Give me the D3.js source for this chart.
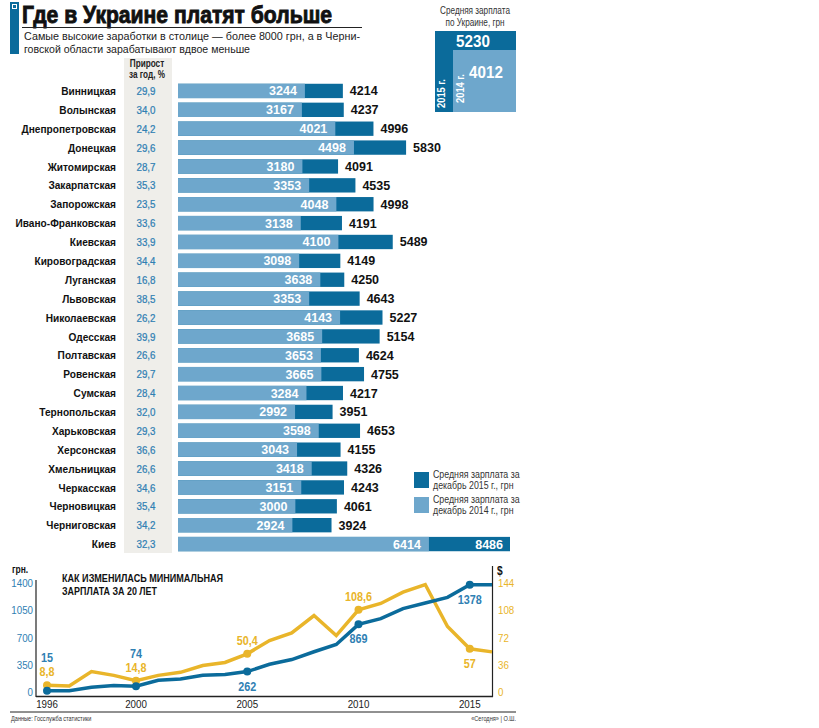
<!DOCTYPE html>
<html>
<head>
<meta charset="utf-8">
<script src="https://cdn.jsdelivr.net/npm/d3@7"></script>
<style>
  html, body { margin: 0; padding: 0; background: #fff; }
  svg { display: block; font-family: "Liberation Sans", Arial, sans-serif; }
</style>
</head>
<body>
<div id="chart-area"></div>
<script>
// regions, growth %, average salary Dec 2014 / Dec 2015 (UAH)
var regions = ["Винницкая", "Волынская", "Днепропетровская", "Донецкая", "Житомирская",
  "Закарпатская", "Запорожская", "Ивано-Франковская", "Киевская", "Кировоградская",
  "Луганская", "Львовская", "Николаевская", "Одесская", "Полтавская", "Ровенская",
  "Сумская", "Тернопольская", "Харьковская", "Херсонская", "Хмельницкая", "Черкасская",
  "Черновицкая", "Черниговская", "Киев"];
var growth = [29.9, 34.0, 24.2, 29.6, 28.7, 35.3, 23.5, 33.6, 33.9, 34.4, 16.8, 38.5, 26.2,
  39.9, 26.6, 29.7, 28.4, 32.0, 29.3, 36.6, 26.6, 34.6, 35.4, 34.2, 32.3];
var salary2014 = [3244, 3167, 4021, 4498, 3180, 3353, 4048, 3138, 4100, 3098, 3638, 3353, 4143,
  3685, 3653, 3665, 3284, 2992, 3598, 3043, 3418, 3151, 3000, 2924, 6414];
var salary2015 = [4214, 4237, 4996, 5830, 4091, 4535, 4998, 4191, 5489, 4149, 4250, 4643, 5227,
  5154, 4624, 4755, 4217, 3951, 4653, 4155, 4326, 4243, 4061, 3924, 8486];
var ukraineAvg2015 = 5230;
var ukraineAvg2014 = 4012;

// minimum wage 1996-2016
var years = [1996, 1997, 1998, 1999, 2000, 2001, 2002, 2003, 2004, 2005, 2006,
  2007, 2008, 2009, 2010, 2011, 2012, 2013, 2014, 2015, 2016];
var minWageUah = [15, 15, 60, 85, 74, 150, 166, 214, 226, 262, 356,
  417, 517, 610, 869, 942, 1071, 1144, 1216, 1378, 1378];
var minWageUsd = [8.8, 8, 27, 22, 14.8, 22, 26, 35, 39, 50.4, 68,
  78, 101, 74.6, 108.6, 117, 132, 142, 86.6, 57, 53];
var labelYears = [1996, 2000, 2005, 2010, 2015];
var uahTicks = [0, 350, 700, 1050, 1400];
var usdTicks = [0, 36, 72, 108, 144];
var yearTicks = [1996, 2000, 2005, 2010, 2015];

var DARK = "#0b6b9b", LIGHT = "#6ea7cc", YELLOW = "#e9b52a", BLUE_TXT = "#2f80b3";
var comma = function(v, n) { return v.toFixed(n).replace(".", ","); };
var squeeze = function(x, y, s) { return "translate(" + x + "," + y + ") scale(" + s + ",1)"; };

var svg = d3.select("#chart-area").append("svg")
  .attr("width", 819)
  .attr("height", 728);

// condensed text helper
function label(str, x, y, size, opts) {
  opts = opts || {};
  var t = svg.append("text")
    .attr("transform", squeeze(x, y, opts.sx || 0.85))
    .attr("font-size", size)
    .attr("font-weight", opts.bold ? "bold" : "normal")
    .attr("fill", opts.fill || "#222")
    .attr("text-anchor", opts.anchor || "start")
    .text(str);
  return t;
}

// ---- header
svg.append("rect").attr("x", 10).attr("y", 2).attr("width", 9).attr("height", 52).attr("fill", DARK);
svg.append("rect").attr("x", 12).attr("y", 4).attr("width", 5).attr("height", 5).attr("fill", "#fff");
svg.append("rect").attr("x", 13).attr("y", 5).attr("width", 3).attr("height", 3).attr("fill", DARK);
svg.append("text").attr("x", 22).attr("y", 22.5)
  .attr("font-size", 24.5).attr("font-weight", "bold").attr("fill", "#111")
  .attr("stroke", "#111").attr("stroke-width", 0.9)
  .attr("textLength", 310).attr("lengthAdjust", "spacingAndGlyphs")
  .text("Где в Украине платят больше");
svg.append("line").attr("x1", 22).attr("x2", 362).attr("y1", 27.5).attr("y2", 27.5)
  .attr("stroke", "#222").attr("stroke-width", 1);
svg.append("text").attr("x", 24).attr("y", 40).attr("font-size", 11.5).attr("fill", "#222")
  .attr("textLength", 336).attr("lengthAdjust", "spacingAndGlyphs")
  .text("Самые высокие заработки в столице — более 8000 грн, а в Черни-");
svg.append("text").attr("x", 24).attr("y", 52.5).attr("font-size", 11.5).attr("fill", "#222")
  .attr("textLength", 226).attr("lengthAdjust", "spacingAndGlyphs")
  .text("говской области зарабатывают вдвое меньше");

// ---- Ukraine average box
label("Средняя зарплата", 475, 14, 10, { anchor: "middle", sx: 0.82, fill: "#333" });
label("по Украине, грн", 475, 26, 10, { anchor: "middle", sx: 0.82, fill: "#333" });
svg.append("rect").attr("x", 435).attr("y", 31).attr("width", 81).attr("height", 81).attr("fill", DARK);
svg.append("rect").attr("x", 453).attr("y", 50).attr("width", 63).attr("height", 62).attr("fill", LIGHT);
label(ukraineAvg2015, 473, 47, 16, { anchor: "middle", bold: true, fill: "#fff", sx: 0.95 });
label(ukraineAvg2014, 486, 78, 16, { anchor: "middle", bold: true, fill: "#fff", sx: 0.95 });
svg.append("text").attr("transform", "translate(445,108) rotate(-90) scale(0.85,1)")
  .attr("font-size", 11).attr("font-weight", "bold").attr("fill", "#fff").text("2015 г.");
svg.append("text").attr("transform", "translate(464,103) rotate(-90) scale(0.85,1)")
  .attr("font-size", 11).attr("font-weight", "bold").attr("fill", "#fff").text("2014 г.");

// ---- bar chart
var x = d3.scaleLinear()
  .domain([0, d3.max(salary2015)])
  .range([178, 510]);
var y = d3.scaleBand()
  .domain(regions)
  .range([81.5, 553.5])
  .paddingInner(0.24)
  .paddingOuter(0.12);

svg.append("rect").attr("x", 124).attr("y", 58).attr("width", 48).attr("height", 495).attr("fill", "#efeeea");
label("Прирост", 147, 67, 10, { anchor: "middle", bold: true, sx: 0.82 });
label("за год, %", 147, 78, 10, { anchor: "middle", bold: true, sx: 0.82 });

var rows = svg.selectAll("g.row")
  .data(regions)
  .enter().append("g")
  .attr("class", "row")
  .attr("transform", (d) => "translate(0," + y(d) + ")");

var h = y.bandwidth();

rows.append("text")
  .attr("transform", squeeze(116, h / 2, 0.88)).attr("dy", "0.36em")
  .attr("text-anchor", "end").attr("font-size", 11.5).attr("font-weight", "bold").attr("fill", "#111")
  .text((d) => d);
rows.append("text")
  .attr("transform", squeeze(146, h / 2, 0.85)).attr("dy", "0.36em")
  .attr("text-anchor", "middle").attr("font-size", 11.5).attr("fill", BLUE_TXT)
  .attr("stroke", BLUE_TXT).attr("stroke-width", 0.25)
  .text((d, i) => comma(growth[i], 1));
rows.append("rect")
  .attr("x", x(0)).attr("y", 0).attr("height", h)
  .attr("width", (d, i) => x(salary2015[i]) - x(0))
  .attr("fill", DARK);
rows.append("rect")
  .attr("x", x(0)).attr("y", 0).attr("height", h)
  .attr("width", (d, i) => x(salary2014[i]) - x(0))
  .attr("fill", LIGHT);
rows.append("text")
  .attr("x", (d, i) => x(salary2014[i]) - 8).attr("y", h / 2).attr("dy", "0.36em")
  .attr("text-anchor", "end").attr("font-size", 12.5).attr("font-weight", "bold").attr("fill", "#fff")
  .text((d, i) => salary2014[i]);
rows.append("text")
  .attr("x", (d, i) => i === regions.length - 1 ? x(salary2015[i]) - 7 : x(salary2015[i]) + 7)
  .attr("y", h / 2).attr("dy", "0.36em")
  .attr("text-anchor", (d, i) => i === regions.length - 1 ? "end" : "start")
  .attr("font-size", 12.5).attr("font-weight", "bold")
  .attr("fill", (d, i) => i === regions.length - 1 ? "#fff" : "#111")
  .text((d, i) => salary2015[i]);

// legend
var legend = [
  { color: DARK, lines: ["Средняя зарплата за", "декабрь 2015 г., грн"], y: 472 },
  { color: LIGHT, lines: ["Средняя зарплата за", "декабрь 2014 г., грн"], y: 497 }
];
legend.forEach((l) => {
  svg.append("rect").attr("x", 414).attr("y", l.y).attr("width", 15).attr("height", 16).attr("fill", l.color);
  l.lines.forEach((t, k) => {
    label(t, 433, l.y + 6 + k * 11, 10.5, { sx: 0.84, fill: "#333" });
  });
});

// ---- minimum wage line chart
var lx = d3.scaleLinear().domain([1996, 2016]).range([47, 492]);
var ly = d3.scaleLinear().domain([0, 1400]).range([692, 583]);
var ry = d3.scaleLinear().domain([0, 144]).range([692, 583]);

label("грн.", 12, 573, 10, { bold: true, fill: "#111" });
label("$", 497, 575, 12, { bold: true, fill: "#111" });
svg.append("text").attr("x", 62).attr("y", 582).attr("font-size", 10).attr("font-weight", "bold")
  .attr("fill", "#111").attr("textLength", 161).attr("lengthAdjust", "spacingAndGlyphs")
  .text("КАК ИЗМЕНИЛАСЬ МИНИМАЛЬНАЯ");
svg.append("text").attr("x", 62).attr("y", 595).attr("font-size", 10).attr("font-weight", "bold")
  .attr("fill", "#111").attr("textLength", 95).attr("lengthAdjust", "spacingAndGlyphs")
  .text("ЗАРПЛАТА ЗА 20 ЛЕТ");

svg.selectAll("text.ltick").data(uahTicks).enter().append("text")
  .attr("class", "ltick")
  .attr("transform", (d) => squeeze(33, ly(d), 0.85)).attr("dy", "0.36em")
  .attr("text-anchor", "end").attr("font-size", 11.5).attr("fill", BLUE_TXT)
  .text((d) => d);
svg.selectAll("text.rtick").data(usdTicks).enter().append("text")
  .attr("class", "rtick")
  .attr("transform", (d) => squeeze(498, ry(d), 0.85)).attr("dy", "0.36em")
  .attr("font-size", 11.5).attr("fill", YELLOW)
  .text((d) => d);
svg.selectAll("text.xtick").data(yearTicks).enter().append("text")
  .attr("class", "xtick")
  .attr("transform", (d) => squeeze(lx(d), 708, 0.85))
  .attr("text-anchor", "middle").attr("font-size", 11.5).attr("fill", "#222")
  .text((d) => d);

svg.append("line").attr("x1", 36).attr("x2", 36).attr("y1", 580).attr("y2", 697)
  .attr("stroke", "#222").attr("stroke-width", 1.2);
svg.append("line").attr("x1", 492.5).attr("x2", 492.5).attr("y1", 566).attr("y2", 697)
  .attr("stroke", "#222").attr("stroke-width", 1.2);
svg.append("line").attr("x1", 36).attr("x2", 493).attr("y1", 696.5).attr("y2", 696.5)
  .attr("stroke", "#222").attr("stroke-width", 1.5);

var lineUsd = d3.line().x((d, i) => lx(years[i])).y((d) => ry(d));
var lineUah = d3.line().x((d, i) => lx(years[i])).y((d) => ly(d));

svg.append("path").datum(minWageUsd).attr("d", lineUsd)
  .attr("fill", "none").attr("stroke", YELLOW).attr("stroke-width", 3.5);
svg.append("path").datum(minWageUah).attr("d", lineUah)
  .attr("fill", "none").attr("stroke", DARK).attr("stroke-width", 3.5);

labelYears.forEach((yr) => {
  var i = years.indexOf(yr);
  var cx = lx(yr);
  var yb = ly(minWageUah[i]), yy = ry(minWageUsd[i]);
  svg.append("circle").attr("cx", cx).attr("cy", yy).attr("r", 4).attr("fill", YELLOW);
  svg.append("circle").attr("cx", cx).attr("cy", yb).attr("r", 4).attr("fill", DARK);

  var usdBelow = yr === 2015;
  var uahBelow = yr >= 2005;
  var yyLabel = usdBelow ? yy + 19 : yy - 9;
  var ybLabel = uahBelow ? yb + 19 : Math.min(yb, yyLabel) - 14;
  label(comma(minWageUsd[i], minWageUsd[i] % 1 ? 1 : 0), cx, yyLabel, 12,
    { anchor: "middle", bold: true, fill: YELLOW, sx: 0.9 });
  label(minWageUah[i], cx, ybLabel, 12,
    { anchor: "middle", bold: true, fill: BLUE_TXT, sx: 0.9 });
});

// footer
svg.append("line").attr("x1", 10).attr("x2", 516).attr("y1", 712).attr("y2", 712)
  .attr("stroke", "#222").attr("stroke-width", 1);
label("Данные: Госслужба статистики", 11, 721, 7, { sx: 0.8, fill: "#333" });
label("«Сегодня» | О.Ш.", 516, 721, 7, { sx: 0.8, fill: "#333", anchor: "end" });
</script>
</body>
</html>
